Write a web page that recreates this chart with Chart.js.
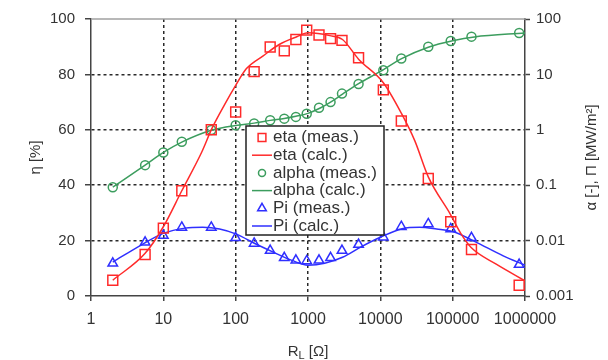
<!DOCTYPE html>
<html><head><meta charset="utf-8">
<script src="https://cdn.jsdelivr.net/npm/chart.js@4/dist/chart.umd.min.js"></script>
<style>html,body{margin:0;padding:0;background:#fff;}#wrap{width:608px;height:360px;}</style>
</head><body><div id="wrap"><canvas id="c" width="608" height="360"></canvas></div>
<script>
// ---- data ----
const rMeas = [2, 5.6, 10, 18, 46, 100, 180, 300, 470, 680, 960, 1420, 2050, 2950, 5000, 11000, 19500, 46000, 94000, 182000, 830000];
const etaMeas = [5.7, 15, 24.5, 38, 60, 66.4, 81, 89.9, 88.5, 92.6, 96, 94.2, 92.9, 92.3, 86, 74.4, 63.2, 42.4, 26.8, 16.8, 3.9];
const alphaMeas = [0.092, 0.23, 0.39, 0.61, 0.99, 1.21, 1.30, 1.49, 1.59, 1.71, 1.95, 2.5, 3.16, 4.5, 6.7, 11.9, 19.3, 31.6, 40, 48, 56];
const piMeas = [0.0039, 0.0093, 0.0123, 0.0173, 0.0173, 0.0112, 0.0089, 0.0066, 0.0049, 0.0044, 0.0043, 0.0044, 0.0049, 0.0066, 0.0085, 0.0115, 0.0178, 0.0200, 0.0162, 0.0112, 0.0037];

const rEtaCalc = [2, 5.6, 10, 18, 34, 47, 70, 100, 140, 240, 400, 700, 1000, 2000, 3000, 5000, 11000, 19500, 30000, 46000, 93000, 130000, 180000, 400000, 1000000];
const etaCalc = [5.7, 15.4, 25, 38, 52, 60.5, 69, 76, 82, 86.7, 90.8, 93.6, 95, 94, 92.6, 85.5, 77, 66, 56, 43, 29.5, 22.5, 17.5, 11.5, 5.5];

const rAlphaCalc = [2, 5.6, 10, 18, 46, 100, 180, 300, 470, 680, 1000, 1500, 2000, 3000, 5000, 10000, 20000, 46000, 100000, 200000, 1000000];
const alphaCalc = [0.092, 0.23, 0.39, 0.60, 0.98, 1.20, 1.32, 1.48, 1.60, 1.75, 1.98, 2.5, 3.1, 4.4, 6.8, 11.3, 19.5, 31, 40.5, 47.5, 56];

const rPiCalc = [2, 5, 10, 20, 35, 60, 100, 200, 330, 600, 1000, 1700, 3000, 5500, 10000, 20000, 35000, 60000, 100000, 200000, 500000, 1000000];
const piCalc = [0.0041, 0.0084, 0.0135, 0.0168, 0.0174, 0.0162, 0.0132, 0.0084, 0.0062, 0.0044, 0.0036, 0.0039, 0.0050, 0.0078, 0.0115, 0.0164, 0.0174, 0.0162, 0.0146, 0.0097, 0.0053, 0.0036];

const xTicks = [1, 10, 100, 1000, 10000, 100000, 1000000];
const etaTicks = [0, 20, 40, 60, 80, 100];
const logTicks = [0.001, 0.01, 0.1, 1, 10, 100];

const seriesLabels = ['eta (meas.)', 'eta (calc.)', 'alpha (meas.)', 'alpha (calc.)', 'Pi (meas.)', 'Pi (calc.)'];
const xTitle = ['R', 'L', ' [\u03A9]'];
const leftTitle = '\u03B7 [%]';
const rightTitle = '\u03B1 [-], \u03A0 [MW/m\u00B2]';
// --------------------------------------

const RED = '#ff2a2a', GREEN = '#3c9d5e', BLUE = '#2f2fff', TXT = '#333333';
const pts = (xs, ys) => xs.map((x, i) => ({x: x, y: ys[i]}));
const FONT = 'Liberation Sans, Arial, sans-serif';

const meas = (label, data, color, style, r, axis) => ({
  label, data, yAxisID: axis, showLine: false, pointStyle: style, pointRadius: r, pointHoverRadius: r,
  borderColor: color, backgroundColor: 'rgba(0,0,0,0)', pointBorderWidth: 1.5, borderWidth: 1.5
});
const calc = (label, data, color, axis) => ({
  label, data, yAxisID: axis, showLine: true, pointRadius: 0, borderColor: color, backgroundColor: color,
  borderWidth: 1.5, cubicInterpolationMode: 'monotone'
});

const overlay = {
  id: 'overlay',
  beforeDatasetsDraw(chart) {
    const ctx = chart.ctx, a = chart.chartArea;
    ctx.save();
    ctx.strokeStyle = '#a0a0a0'; ctx.lineWidth = 1.5;
    ctx.beginPath(); ctx.moveTo(a.left, a.top); ctx.lineTo(a.right, a.top); ctx.stroke();
    ctx.restore();
  },
  afterDraw(chart) {
    const ctx = chart.ctx, a = chart.chartArea;
    ctx.save();
    ctx.fillStyle = TXT;
    // x title with subscript
    const f1 = '15px ' + FONT, f2 = '11px ' + FONT;
    ctx.font = f1; const w1 = ctx.measureText(xTitle[0]).width, w3 = ctx.measureText(xTitle[2]).width;
    ctx.font = f2; const w2 = ctx.measureText(xTitle[1]).width;
    let x = (a.left + a.right) / 2 - (w1 + w2 + w3) / 2; const yb = 356;
    ctx.textBaseline = 'alphabetic'; ctx.textAlign = 'left';
    ctx.font = f1; ctx.fillText(xTitle[0], x, yb); x += w1;
    ctx.font = f2; ctx.fillText(xTitle[1], x, yb + 3); x += w2;
    ctx.font = f1; ctx.fillText(xTitle[2], x, yb);
    // right title, reading bottom to top
    ctx.save();
    ctx.translate(592, (a.top + a.bottom) / 2);
    ctx.rotate(-Math.PI / 2);
    ctx.textAlign = 'center'; ctx.textBaseline = 'middle'; ctx.font = f1;
    ctx.fillText(rightTitle, 0, 0);
    ctx.restore();
    // legend box
    const bx = a.left + 155, by = 126, bw = 138, bh = 109;
    ctx.fillStyle = '#ffffff'; ctx.fillRect(bx, by, bw, bh);
    ctx.strokeStyle = '#222'; ctx.lineWidth = 1.5; ctx.strokeRect(bx, by, bw, bh);
    ctx.font = '17px ' + FONT; ctx.textBaseline = 'middle'; ctx.textAlign = 'left';
    chart.data.datasets.forEach((ds, i) => {
      const cy = by + 11.5 + i * 17.7;
      ctx.strokeStyle = ds.borderColor; ctx.lineWidth = 1.5;
      if (ds.showLine) {
        ctx.beginPath(); ctx.moveTo(bx + 6, cy); ctx.lineTo(bx + 26, cy); ctx.stroke();
      } else {
        const r = ds.pointStyle === 'rect' ? 5.5 : (ds.pointStyle === 'triangle' ? 5 : 3.5);
        ctx.fillStyle = 'rgba(0,0,0,0)';
        Chart.helpers.drawPoint(ctx, {pointStyle: ds.pointStyle, radius: r, borderWidth: 1.5, rotation: 0}, bx + 16, cy);
      }
      ctx.fillStyle = TXT;
      ctx.fillText(ds.label, bx + 27, cy);
    });
    ctx.restore();
  }
};

const tickFont = {family: FONT, size: 15};
const edgeTransparent = (vals) => (c) => (c.tick && vals.includes(c.tick.value)) ? 'rgba(0,0,0,0)' : '#2a2a2a';

new Chart(document.getElementById('c'), {
  type: 'scatter',
  data: {
    datasets: [
      meas(seriesLabels[0], pts(rMeas, etaMeas), RED, 'rect', 7, 'yL'),
      calc(seriesLabels[1], pts(rEtaCalc, etaCalc), RED, 'yL'),
      meas(seriesLabels[2], pts(rMeas, alphaMeas), GREEN, 'circle', 4.5, 'yR'),
      calc(seriesLabels[3], pts(rAlphaCalc, alphaCalc), GREEN, 'yR'),
      meas(seriesLabels[4], pts(rMeas, piMeas), BLUE, 'triangle', 5.5, 'yR'),
      calc(seriesLabels[5], pts(rPiCalc, piCalc), BLUE, 'yR')
    ]
  },
  options: {
    responsive: false, animation: false,
    layout: {padding: {top: 16, left: 0, right: 0, bottom: 0}},
    plugins: {legend: {display: false}, tooltip: {enabled: false}},
    scales: {
      x: {
        type: 'logarithmic', position: 'bottom', min: 1, max: 1000000,
        afterBuildTicks: s => { s.ticks = xTicks.map(v => ({value: v})); },
        afterFit: s => { s.height = 64; },
        ticks: {callback: v => String(v), font: {family: FONT, size: 16}, color: TXT, padding: 9, maxRotation: 0, autoSkip: false},
        grid: {color: edgeTransparent([1, 1000000]), lineWidth: 1.5, tickLength: 5, tickColor: '#444', tickWidth: 1.5},
        border: {color: '#444', width: 1.5, dash: [3, 3]}
      },
      yL: {
        type: 'linear', position: 'left', min: 0, max: 100,
        afterBuildTicks: s => { s.ticks = etaTicks.map(v => ({value: v})); },
        afterFit: s => { s.width = 91; },
        ticks: {font: tickFont, color: TXT, padding: 10},
        title: {display: true, text: leftTitle, font: {family: FONT, size: 15}, color: TXT, padding: {top: 27, bottom: 0}},
        grid: {color: edgeTransparent([0, 100]), lineWidth: 1.5, tickLength: 6, tickColor: '#444', tickWidth: 1.5},
        border: {color: '#444', width: 1.5, dash: [3, 3]}
      },
      yR: {
        type: 'logarithmic', position: 'right', min: 0.001, max: 100,
        afterBuildTicks: s => { s.ticks = logTicks.map(v => ({value: v})); },
        afterFit: s => { s.width = 83; },
        ticks: {callback: v => String(v), font: tickFont, color: TXT, padding: 6},
        grid: {drawOnChartArea: false, tickLength: 5, tickColor: '#444', tickWidth: 1.5},
        border: {color: '#444', width: 1.5}
      }
    }
  },
  plugins: [overlay]
});
</script>
</body></html>
